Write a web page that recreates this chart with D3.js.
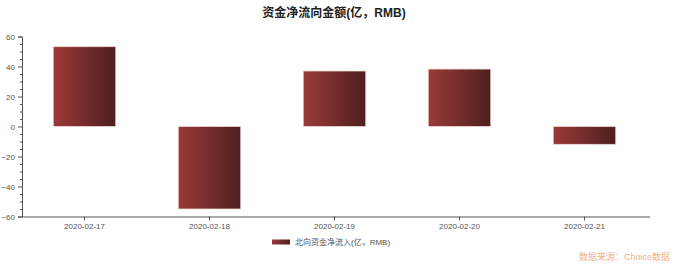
<!DOCTYPE html>
<html><head><meta charset="utf-8">
<script src="https://cdn.jsdelivr.net/npm/d3@7"></script>
<style>body{margin:0;background:#fff}svg{display:block}</style>
</head><body>
<svg id="c" width="679" height="270"></svg>
<script>
const categories = ["2020-02-17","2020-02-18","2020-02-19","2020-02-20","2020-02-21"];
const values = [53.2, -55.0, 37.0, 38.3, -11.9];
const yTicks = [-60,-40,-20,0,20,40,60];
const titleText = "资金净流向金额(亿，RMB)";
const legendText = "北向资金净流入(亿，RMB)";
const sourceText = "数据来源：Choice数据";

const svg = d3.select("#c");
const font = "'Liberation Sans', Arial, 'Noto Sans CJK SC', sans-serif";
const x = d3.scaleBand().domain(categories).range([22, 647]).paddingInner(0.5).paddingOuter(0.25);
const y = d3.scaleLinear().domain([-60, 60]).range([216.5, 36.5]);

const defs = svg.append("defs");
const g = defs.append("linearGradient").attr("id","bg").attr("x1","0").attr("x2","1").attr("y1","0").attr("y2","0");
g.append("stop").attr("offset","0").attr("stop-color","#9b3a38");
g.append("stop").attr("offset","1").attr("stop-color","#4e1f1f");

// bars
svg.append("g").selectAll("rect").data(values).join("rect")
  .attr("x",(d,i)=>x(categories[i]))
  .attr("width",x.bandwidth())
  .attr("y",d=>y(Math.max(0,d)))
  .attr("height",d=>Math.abs(y(d)-y(0)))
  .attr("fill","url(#bg)")
  .attr("stroke","#eed8d8").attr("stroke-width",0.8);

// y axis
const ya = svg.append("g").attr("transform","translate(22,0)")
  .call(d3.axisLeft(y).tickValues(yTicks).tickSize(4).tickPadding(3).tickFormat(d3.format("d")));
ya.select(".domain").attr("stroke","#555");
ya.selectAll(".tick line").attr("stroke","#555");
ya.selectAll("text").attr("font-family",font).attr("font-size",8).attr("fill","#555");
const minor = d3.range(-60,61,5).filter(v=>v%20!==0);
svg.append("g").selectAll("line").data(minor).join("line")
  .attr("x1",20).attr("x2",22).attr("y1",d=>y(d)+0.5).attr("y2",d=>y(d)+0.5)
  .attr("stroke","#555");

// x axis
const xa = svg.append("g").attr("transform",`translate(0,${y(-60)})`)
  .call(d3.axisBottom(x).tickSize(4).tickSizeOuter(0).tickPadding(3));
xa.select(".domain").attr("stroke","#555").attr("d","M22,0.5H650");
xa.selectAll(".tick line").attr("stroke","#555");
xa.selectAll("text").attr("font-family",font).attr("font-size",8).attr("fill","#555");

// title
svg.append("text").attr("x",334).attr("y",17).attr("text-anchor","middle")
  .attr("font-family",font).attr("font-size",12).attr("font-weight","bold").attr("fill","#222").text(titleText);

// legend
svg.append("rect").attr("x",272).attr("y",239.5).attr("width",18).attr("height",5).attr("fill","url(#bg)");
svg.append("text").attr("x",295).attr("y",245).attr("font-family",font).attr("font-size",8).attr("fill","#555").text(legendText);

// source
svg.append("text").attr("x",670).attr("y",260).attr("text-anchor","end")
  .attr("font-family",font).attr("font-size",9).attr("fill","#f2b088").text(sourceText);
</script>
</body></html>
